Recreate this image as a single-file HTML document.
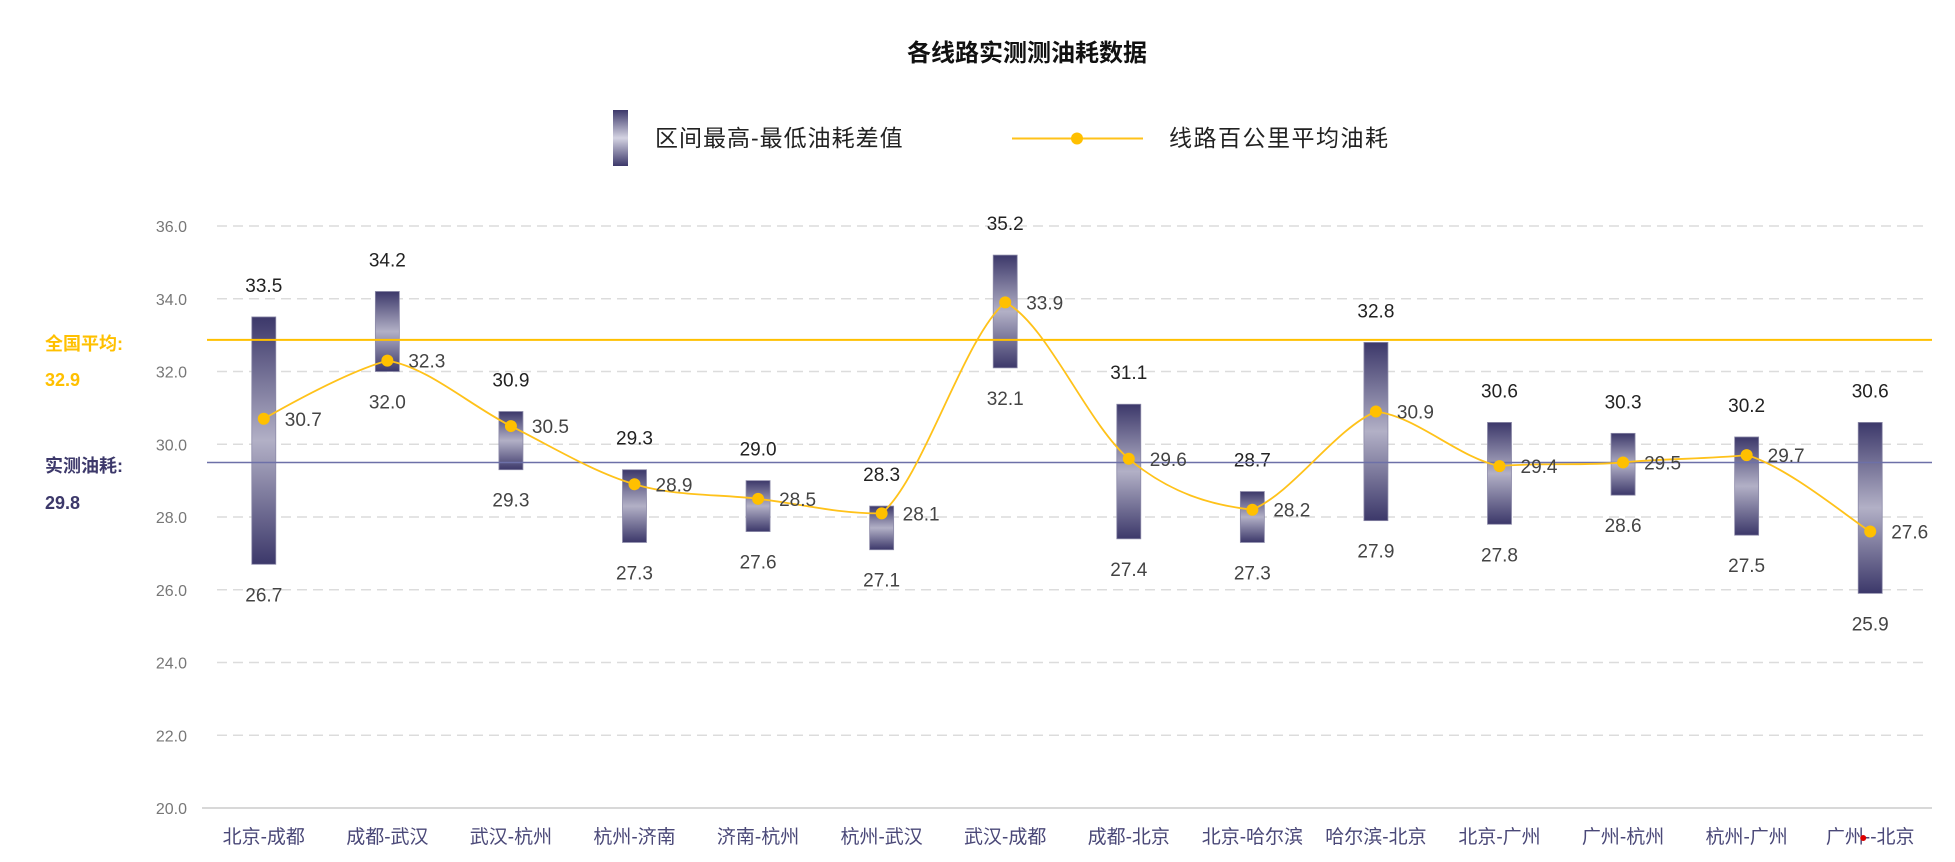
<!DOCTYPE html>
<html><head><meta charset="utf-8">
<style>
html,body{margin:0;padding:0;background:#fff;width:1955px;height:862px;overflow:hidden}
svg{display:block;font-family:"Liberation Sans","Noto Sans CJK SC",sans-serif}
</style></head>
<body>
<svg id="chart" width="1955" height="862" viewBox="0 0 1955 862">
<defs>
<linearGradient id="barGrad" x1="0" y1="0" x2="0" y2="1">
<stop offset="0" stop-color="#3c386a"/>
<stop offset="0.5" stop-color="#b2b0c6"/>
<stop offset="1" stop-color="#3c386a"/>
</linearGradient>
<linearGradient id="legGrad" x1="0" y1="0" x2="0" y2="1">
<stop offset="0" stop-color="#3c386a"/>
<stop offset="0.5" stop-color="#d4d3e2"/>
<stop offset="1" stop-color="#3c386a"/>
</linearGradient>
</defs>
<text x="1027" y="61" text-anchor="middle" font-size="24" font-weight="bold" fill="#111">各线路实测测油耗数据</text>
<g>
<rect x="613" y="110" width="15" height="56" fill="url(#legGrad)"/>
<text x="655" y="146" font-size="23" letter-spacing="1" fill="#222">区间最高-最低油耗差值</text>
</g>
<g>
<line x1="1012" y1="138.5" x2="1143" y2="138.5" stroke="#ffc21a" stroke-width="2"/>
<circle cx="1077" cy="138.5" r="6" fill="#ffc000"/>
<text x="1169" y="146" font-size="23" letter-spacing="1.5" fill="#222">线路百公里平均油耗</text>
</g>
<g id="grid"></g>
<g id="marks"></g>
<text x="45" y="350" font-size="18" font-weight="bold" fill="#ffc000">全国平均:</text>
<text x="45" y="386" font-size="18" font-weight="bold" fill="#ffc000">32.9</text>
<text x="45" y="472" font-size="18" font-weight="bold" fill="#3c386a">实测油耗:</text>
<text x="45" y="509" font-size="18" font-weight="bold" fill="#3c386a">29.8</text>
</svg>
<script>
const categories=["北京-成都","成都-武汉","武汉-杭州","杭州-济南","济南-杭州","杭州-武汉","武汉-成都","成都-北京","北京-哈尔滨","哈尔滨-北京","北京-广州","广州-杭州","杭州-广州","广州--北京"];
const highValues=[33.5,34.2,30.9,29.3,29.0,28.3,35.2,31.1,28.7,32.8,30.6,30.3,30.2,30.6];
const lowValues=[26.7,32.0,29.3,27.3,27.6,27.1,32.1,27.4,27.3,27.9,27.8,28.6,27.5,25.9];
const avgValues=[30.7,32.3,30.5,28.9,28.5,28.1,33.9,29.6,28.2,30.9,29.4,29.5,29.7,27.6];
const yTicks=[20,22,24,26,28,30,32,34,36];
const nationalAvg=32.87;
const measuredAvg=29.5;

const NS="http://www.w3.org/2000/svg";
const plotL=202,plotR=1932,y0=808,yTop=226,vMin=20,vMax=36;
const band=(plotR-plotL)/categories.length;
function xPos(i){return plotL+band*(i+0.5);}
function yPos(v){return y0-(v-vMin)/(vMax-vMin)*(y0-yTop);}
function mk(tag,attrs,parent){const e=document.createElementNS(NS,tag);for(const k in attrs)e.setAttribute(k,attrs[k]);parent.appendChild(e);return e;}
const grid=document.getElementById('grid'),marks=document.getElementById('marks');

yTicks.forEach(t=>{
  if(t>vMin){
    const g=mk('line',{x1:217,x2:1927,y1:yPos(t),y2:yPos(t),stroke:'#dcdcdc','stroke-width':1.5,'stroke-dasharray':'10 6'},grid);
    
    
  }
  const tx=mk('text',{x:187,y:yPos(t)+6,'text-anchor':'end','font-size':16,fill:'#777'},grid);
  tx.textContent=t.toFixed(1);
  
  
});
const ax=mk('line',{x1:plotL,x2:plotR,y1:y0,y2:y0,stroke:'#d8d8d8','stroke-width':2},grid);



categories.forEach((c,i)=>{
  const t=mk('text',{x:xPos(i),y:843,'text-anchor':'middle','font-size':19,fill:'#4a4878'},grid);
  t.textContent=c;
  
  
});
const rd=mk('circle',{cx:xPos(13)-7,cy:838,r:3,fill:'#d00'},grid);



categories.forEach((c,i)=>{
  const yh=yPos(highValues[i]),yl=yPos(lowValues[i]);
  const r=mk('rect',{x:xPos(i)-12,y:yh,width:24,height:yl-yh,fill:'url(#barGrad)',stroke:'#8c8aa8','stroke-width':0.8},marks);
  
  
  const th=mk('text',{x:xPos(i),y:yh-25,'text-anchor':'middle','font-size':19,fill:'#222'},marks);
  th.textContent=highValues[i].toFixed(1);
  
  
  const tl=mk('text',{x:xPos(i),y:yl+37,'text-anchor':'middle','font-size':19,fill:'#444'},marks);
  tl.textContent=lowValues[i].toFixed(1);
  
  
});

const nl=mk('line',{x1:207,x2:plotR,y1:yPos(nationalAvg),y2:yPos(nationalAvg),stroke:'#ffc000','stroke-width':2},marks);


const ml=mk('line',{x1:207,x2:plotR,y1:yPos(measuredAvg),y2:yPos(measuredAvg),stroke:'#6d70a8','stroke-width':1.5},marks);



const pts=avgValues.map((v,i)=>[xPos(i),yPos(v)]);
function clamp(v,a,b){const lo=Math.min(a,b),hi=Math.max(a,b);return Math.max(lo,Math.min(hi,v));}
let d='M'+pts[0][0]+','+pts[0][1];
for(let i=0;i<pts.length-1;i++){
  const p0=pts[Math.max(0,i-1)],p1=pts[i],p2=pts[i+1],p3=pts[Math.min(pts.length-1,i+2)];
  const k=0.5/3;
  const c1=[p1[0]+(p2[0]-p0[0])*k,p1[1]+(p2[1]-p0[1])*k];
  const c2=[p2[0]-(p3[0]-p1[0])*k,p2[1]-(p3[1]-p1[1])*k];
  c1[1]=clamp(c1[1],p1[1]-(p1[1]-p2[1])*0.15-3,p2[1]);
  c2[1]=clamp(c2[1],p1[1],p2[1]+(p1[1]-p2[1])*0.15+3);
  d+=' C'+c1[0]+','+c1[1]+' '+c2[0]+','+c2[1]+' '+p2[0]+','+p2[1];
}
const ln=mk('path',{d:d,fill:'none',stroke:'#ffc21a','stroke-width':1.8},marks);


pts.forEach((p,i)=>{
  const ci=mk('circle',{cx:p[0],cy:p[1],r:6,fill:'#ffc000'},marks);
  
  
  const t=mk('text',{x:p[0]+21,y:p[1]+7,'font-size':19,fill:'#444'},marks);
  t.textContent=avgValues[i].toFixed(1);
  
  
});
</script>
</body></html>
